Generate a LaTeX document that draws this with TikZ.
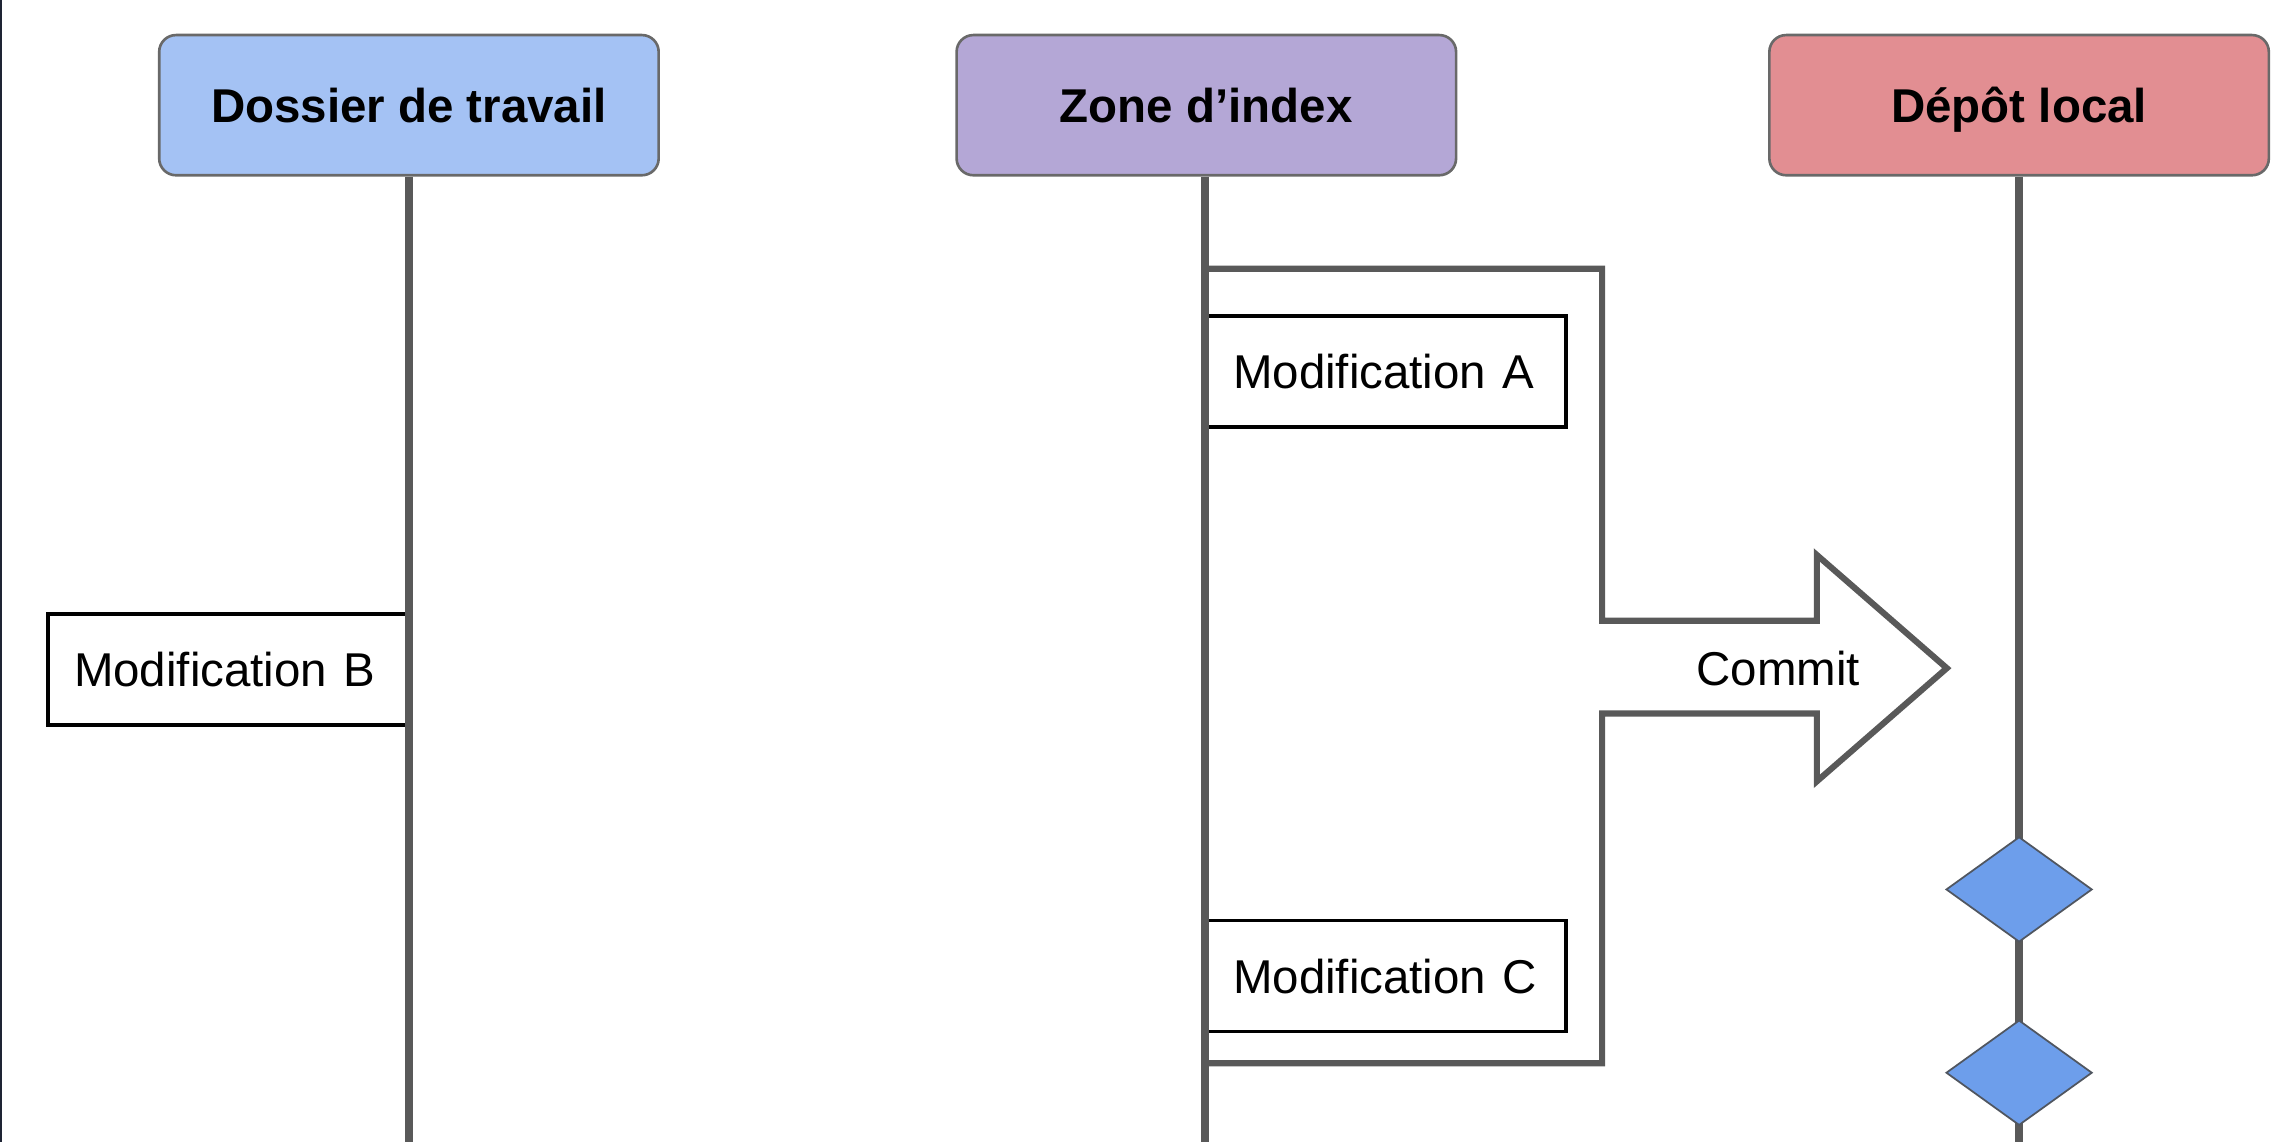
\documentclass[tikz,border=0pt]{standalone}
\usepackage{fontspec}
\setmainfont{Liberation Sans}
\usetikzlibrary{shapes.geometric}
\definecolor{hdrblue}{RGB}{164,194,244}
\definecolor{hdrpurple}{RGB}{180,167,214}
\definecolor{hdrred}{RGB}{226,142,146}
\definecolor{linegray}{RGB}{89,89,89}
\definecolor{edgegray}{RGB}{105,105,105}
\definecolor{dmdblue}{RGB}{109,158,235}
\definecolor{dmdedge}{RGB}{80,86,96}
\definecolor{framecol}{RGB}{30,36,52}
\begin{document}
\begin{tikzpicture}[x=0.5pt,y=-0.5pt,
  header/.style={draw=edgegray, line width=0.9pt, rounded corners=5.75pt,
    minimum width=171pt, minimum height=48pt, inner sep=0pt,
    text height=11.7pt, text depth=0pt,
    font=\fontsize{16.25}{19}\selectfont\bfseries},
  modbox/.style={draw=black, fill=white, line width=1.3pt, anchor=north west,
    inner xsep=9pt, inner ysep=0pt, text width=105pt, align=left,
    text height=11.7pt, text depth=0pt,
    minimum height=38pt, font=\fontsize{16.25}{19}\selectfont},
  lifeline/.style={draw=linegray, line width=2.7pt},
  bracket/.style={draw=linegray, line width=2.1pt, fill=white, line join=miter},
  commitpt/.style={diamond, draw=dmdedge, fill=dmdblue, line width=0.6pt,
    inner sep=0pt, minimum width=50pt, minimum height=36pt},
  plainlabel/.style={inner sep=0pt, text height=11.7pt, text depth=0pt,
    font=\fontsize{16.25}{19}\selectfont}
]
\useasboundingbox (0,0) rectangle (1568,782);
\fill[framecol] (0,0) rectangle (1.6,782);

% bracket with commit arrow
\draw[bracket] (825,184) -- (1097,184) -- (1097,425) -- (1244,425) -- (1244,380)
  -- (1333,457.5) -- (1244,535) -- (1244,488.5) -- (1097,488.5) -- (1097,728)
  -- (825,728) -- cycle;
\node[plainlabel] (commit) at (1217.5,457.5) {Commit};

% modification boxes
\node[modbox] (modA) at (825,215) {Modification A};
\node[modbox] (modC) at (825,629) {Modification C};
\node[modbox, anchor=north east] (modB) at (280,419) {Modification B};

% headers
\node[header, fill=hdrblue] (h1) at (280,72) {Dossier de travail};
\node[header, fill=hdrpurple] (h2) at (826,72) {Zone d’index};
\node[header, fill=hdrred] (h3) at (1382.5,72) {Dépôt local};

% lifeline ends
\coordinate (e1) at (280,782);
\coordinate (e2) at (825,782);
\coordinate (e3) at (1382.5,782);

\draw[lifeline] (h1.south) -- (e1);
\draw[lifeline] (h2.south -| e2) -- (e2);
\draw[lifeline] (h3.south) -- (e3);

% commits
\node[commitpt] (c1) at (1382.5,609) {};
\node[commitpt] (c2) at (1382.5,734.5) {};
\end{tikzpicture}
\end{document}
